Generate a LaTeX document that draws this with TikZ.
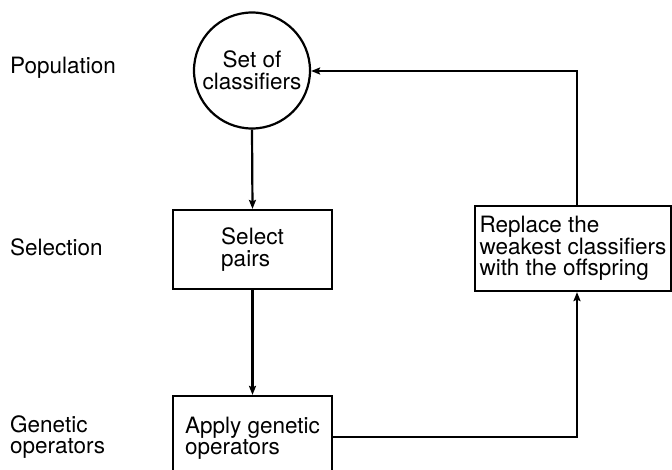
\documentclass[tikz,border=0pt]{standalone}
\usepackage{fontspec}
\setmainfont{TeX Gyre Heros}
\usetikzlibrary{arrows.meta}
\begin{document}
\begin{tikzpicture}[x=1pt,y=-1pt,
  every node/.style={font=\fontsize{22.5}{21.5}\selectfont},
  stagebox/.style={draw,line width=2.2pt,rectangle,inner sep=0pt,align=left},
  poolnode/.style={draw,line width=2.2pt,circle,inner sep=0pt,align=center},
  rowlabel/.style={inner sep=0pt,align=left},
  flow/.style={line width=2.2pt,-{Stealth[length=9pt,width=7pt,inset=1.5pt]}}]
  \clip (0,0) rectangle (672,469);
  \useasboundingbox (0,0) rectangle (672,469);

  % row labels
  \node[rowlabel,anchor=base west] (lpop) at (10,73) {Population};
  \node[rowlabel,anchor=base west] (lsel) at (10,255) {Selection};
  \node[rowlabel,anchor=west] (lgen) at (10,437) {Genetic\\operators};

  % stages of the cycle
  \node[poolnode,minimum size=116pt] (pool) at (252,70.5) {Set of\\classifiers};
  \node[stagebox,minimum width=159pt,minimum height=79pt] (select) at (252.5,249.5) {Select\\pairs};
  \node[stagebox,minimum width=159pt,minimum height=84pt] (apply) at (252.5,438) {Apply genetic\\operators};
  \node[stagebox,minimum width=196pt,minimum height=85pt] (replace) at (573,248.5) {Replace the\\weakest classifiers\\with the offspring};

  % routing points of the return path
  \coordinate (lowturn) at (577,437);
  \coordinate (highturn) at (577,71);

  % connectors
  \draw[flow] (pool.south) -- (select.north);
  \draw[flow] (select.south) -- (apply.north);
  \draw[flow] (apply.east |- lowturn) -- (lowturn) -- (lowturn |- replace.south);
  \draw[flow] (highturn |- replace.north) -- (highturn) -- (highturn -| pool.east);
\end{tikzpicture}
\end{document}
